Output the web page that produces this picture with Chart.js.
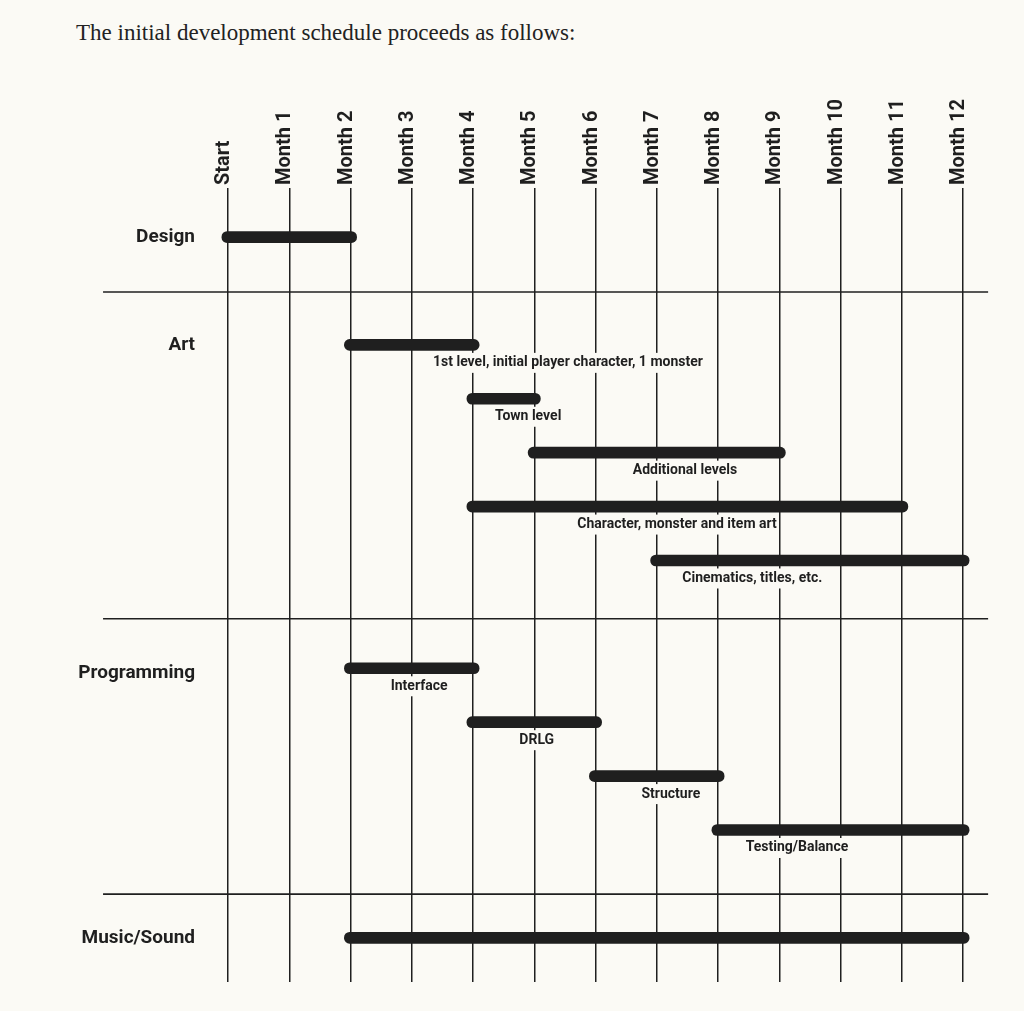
<!DOCTYPE html>
<html>
<head>
<meta charset="utf-8">
<script src="https://cdn.jsdelivr.net/npm/chart.js@4.4.1/dist/chart.umd.min.js"></script>
<style>
  html, body { margin: 0; padding: 0; background: #fbfaf5; }
  #wrap { position: relative; width: 1024px; height: 1011px; }
  #titulo {
    position: absolute; left: 76px; top: 20px;
    font-family: "Liberation Serif", "DejaVu Serif", serif;
    font-size: 23px; color: #222;
  }
  canvas { position: absolute; left: 0; top: 0; }
</style>
</head>
<body>
<div id="wrap">
  <div id="titulo">The initial development schedule proceeds as follows:</div>
  <canvas id="grafico"></canvas>
</div>
<script>
// columnas (meses)
const monthLabels = ['Start', 'Month 1', 'Month 2', 'Month 3', 'Month 4', 'Month 5', 'Month 6',
  'Month 7', 'Month 8', 'Month 9', 'Month 10', 'Month 11', 'Month 12'];

// grupos a la izquierda
const groupNames = ['Design', 'Art', 'Programming', 'Music/Sound'];
const groupRows = [0, 2, 8.1, 13];

// tareas
const taskNames = ['', '1st level, initial player character, 1 monster', 'Town level', 'Additional levels',
  'Character, monster and item art', 'Cinematics, titles, etc.', 'Interface', 'DRLG', 'Structure',
  'Testing/Balance', ''];
const taskRows = [0, 2, 3, 4, 5, 6, 8, 9, 10, 11, 13];
const taskStart = [0, 2, 4, 5, 4, 7, 2, 4, 6, 8, 2];
const taskEnd = [2, 4, 5, 9, 11, 12, 4, 6, 8, 12, 12];
const labelAt = [null, 5.55, 4.9, 7.46, 7.33, 8.56, 3.12, 5.04, 7.23, 9.29, null];

// lineas que separan los grupos
const separatorRows = [1.02, 7.08, 12.19];
const separatorFrom = -2.04;
const separatorTo = 12.41;

const PAPEL = '#fbfaf5';
const TINTA = '#1f1f1f';
const CONDENSADA = "Roboto, 'Liberation Sans', sans-serif";
const capExt = 0.1; // las puntas redondeadas sobresalen un poco

const separadores = {
  id: 'separadores',
  beforeDatasetsDraw(chart) {
    const { ctx, scales: { x, y } } = chart;
    ctx.save();
    ctx.strokeStyle = TINTA;
    ctx.lineWidth = 1.6;
    separatorRows.forEach(r => {
      const py = y.getPixelForValue(r);
      ctx.beginPath();
      ctx.moveTo(x.getPixelForValue(separatorFrom), py);
      ctx.lineTo(x.getPixelForValue(separatorTo), py);
      ctx.stroke();
    });
    ctx.restore();
  }
};

const etiquetas = {
  id: 'etiquetas',
  afterDatasetsDraw(chart) {
    const { ctx, scales: { x, y } } = chart;
    ctx.save();
    ctx.font = 'bold 14px ' + CONDENSADA;
    ctx.textAlign = 'center';
    ctx.textBaseline = 'middle';
    taskNames.forEach((t, i) => {
      if (!t) return;
      const px = x.getPixelForValue(labelAt[i]);
      const py = y.getPixelForValue(taskRows[i]) + 18;
      const w = ctx.measureText(t).width;
      ctx.fillStyle = PAPEL;
      ctx.fillRect(px - w / 2 - 2, py - 10, w + 4, 20);
      ctx.fillStyle = TINTA;
      ctx.fillText(t, px, py);
    });
    ctx.restore();
  }
};

new Chart(document.getElementById('grafico'), {
  type: 'bar',
  data: {
    datasets: [{
      data: taskRows.map((r, i) => ({ x: [taskStart[i] - capExt, taskEnd[i] + capExt], y: r })),
      backgroundColor: TINTA,
      borderRadius: 6,
      borderSkipped: false,
      barThickness: 11,
      clip: false
    }]
  },
  options: {
    indexAxis: 'y',
    responsive: true,
    maintainAspectRatio: false,
    animation: false,
    layout: { padding: { top: 88, left: 0, right: 61, bottom: 29 } },
    plugins: { legend: { display: false }, tooltip: { enabled: false } },
    scales: {
      x: {
        type: 'linear',
        position: 'top',
        min: 0, max: 12,
        afterFit(s) { s.height = 100; s.paddingLeft = 0; s.paddingRight = 0; },
        border: { display: false },
        grid: { color: TINTA, lineWidth: 1.5, drawTicks: false },
        ticks: {
          stepSize: 1,
          autoSkip: false,
          minRotation: 90, maxRotation: 90,
          padding: 3,
          labelOffset: 20,
          color: TINTA,
          font: { family: CONDENSADA, weight: 'bold', size: 20 },
          callback: v => monthLabels[v]
        }
      },
      y: {
        type: 'linear',
        reverse: true,
        offset: false,
        min: -0.91, max: 13.82,
        afterFit(s) { s.width = 228; s.paddingTop = 0; s.paddingBottom = 0; },
        afterBuildTicks(s) { s.ticks = groupRows.map(v => ({ value: v })); },
        border: { display: false },
        grid: { display: false, drawTicks: false, offset: false },
        ticks: {
          padding: 33,
          color: TINTA,
          font: { family: CONDENSADA, weight: 'bold', size: 19 },
          callback: (v, i) => groupNames[i]
        }
      }
    }
  },
  plugins: [separadores, etiquetas]
});
</script>
</body>
</html>
